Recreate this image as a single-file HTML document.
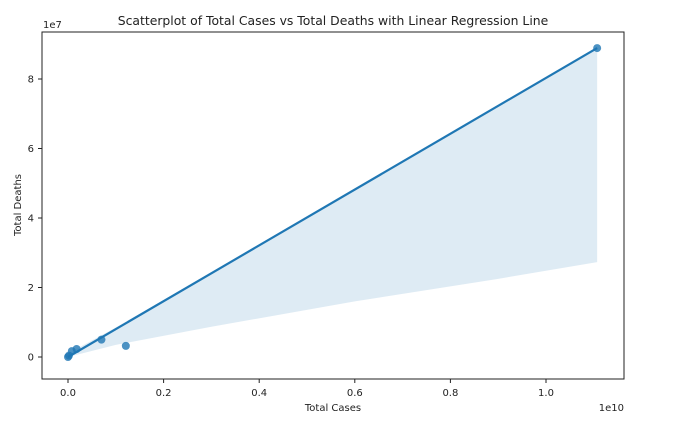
<!DOCTYPE html>
<html><head><meta charset="utf-8"><style>
body{margin:0;background:#fff;font-family:"Liberation Sans","DejaVu Sans",sans-serif}
svg text{font-family:"DejaVu Sans","Liberation Sans",sans-serif;fill:#222}
</style></head><body>
<svg id="chart" width="676" height="425" viewBox="0 0 676 425" xmlns="http://www.w3.org/2000/svg">
<rect x="0" y="0" width="676" height="425" fill="#fff"/>
<g id="plot"></g>
</svg>
<script>
const casesX = [0, 0.002, 0.008, 0.018, 0.07, 0.121, 1.107];
const deathsY = [0, 0.04, 0.17, 0.23, 0.5, 0.32, 8.89];
const lineX = [0, 1.107];
const lineY = [0, 8.89];
const bandX = [0, 0.1, 0.3, 0.6, 0.9, 1.107];
const bandLower = [0, 0.35, 0.87, 1.6, 2.25, 2.73];
const bandUpper = [0.1, 0.85, 2.43, 4.83, 7.23, 8.92];
const xTicks = [0, 0.2, 0.4, 0.6, 0.8, 1.0];
const xTickLabels = ["0.0","0.2","0.4","0.6","0.8","1.0"];
const yTicks = [0, 2, 4, 6, 8];
const yTickLabels = ["0","2","4","6","8"];

const L=42,R=624,T=32,B=379;
const sx=v=>68+v*478;
const sy=v=>357-v*34.75;
const NS="http://www.w3.org/2000/svg";
const g=document.getElementById('plot');
function mk(t,a,p){const e=document.createElementNS(NS,t);for(const k in a)e.setAttribute(k,a[k]);(p||g).appendChild(e);return e;}

let pts=bandX.map((x,i)=>sx(x)+","+sy(bandUpper[i]));
pts=pts.concat(bandX.slice().reverse().map((x,i)=>sx(x)+","+sy(bandLower[bandX.length-1-i])));
const band=mk('polygon',{points:pts.join(" "),fill:"#1f77b4","fill-opacity":"0.15"});



casesX.forEach((x,i)=>{
 const c=mk('circle',{cx:sx(x),cy:sy(deathsY[i]),r:4,fill:"#1f77b4","fill-opacity":"0.8"});
 
 
});
const ln=mk('line',{x1:sx(lineX[0]),y1:sy(lineY[0]),x2:sx(lineX[1]),y2:sy(lineY[1]),stroke:"#1f77b4","stroke-width":2.2});



const fr=mk('rect',{x:L,y:T,width:R-L,height:B-T,fill:"none",stroke:"#222","stroke-width":1});



xTicks.forEach((v,i)=>{
 mk('line',{x1:sx(v),x2:sx(v),y1:B,y2:B+4,stroke:"#222"});
 const t=mk('text',{x:sx(v),y:B+17,"font-size":10,"text-anchor":"middle"});
 t.textContent=xTickLabels[i];
 
 
});
yTicks.forEach((v,i)=>{
 mk('line',{x1:L-4,x2:L,y1:sy(v),y2:sy(v),stroke:"#222"});
 const t=mk('text',{x:L-8,y:sy(v)+3.5,"font-size":10,"text-anchor":"end"});
 t.textContent=yTickLabels[i];
 
 
});
function txt(s,a,name){const t=mk('text',a);t.textContent=s;}
txt("Scatterplot of Total Cases vs Total Deaths with Linear Regression Line",{x:333,y:25,"font-size":12.4,"text-anchor":"middle"},"chart-title");
txt("Total Cases",{x:333,y:411,"font-size":10,"text-anchor":"middle"},"x-axis-title");
txt("Total Deaths",{x:0,y:0,"font-size":10,"text-anchor":"middle",transform:"translate(21,205) rotate(-90)"},"y-axis-title");
txt("1e7",{x:43,y:28,"font-size":10},"y-axis-offset");
txt("1e10",{x:624,y:411,"font-size":10,"text-anchor":"end"},"x-axis-offset");
</script>
</body></html>
